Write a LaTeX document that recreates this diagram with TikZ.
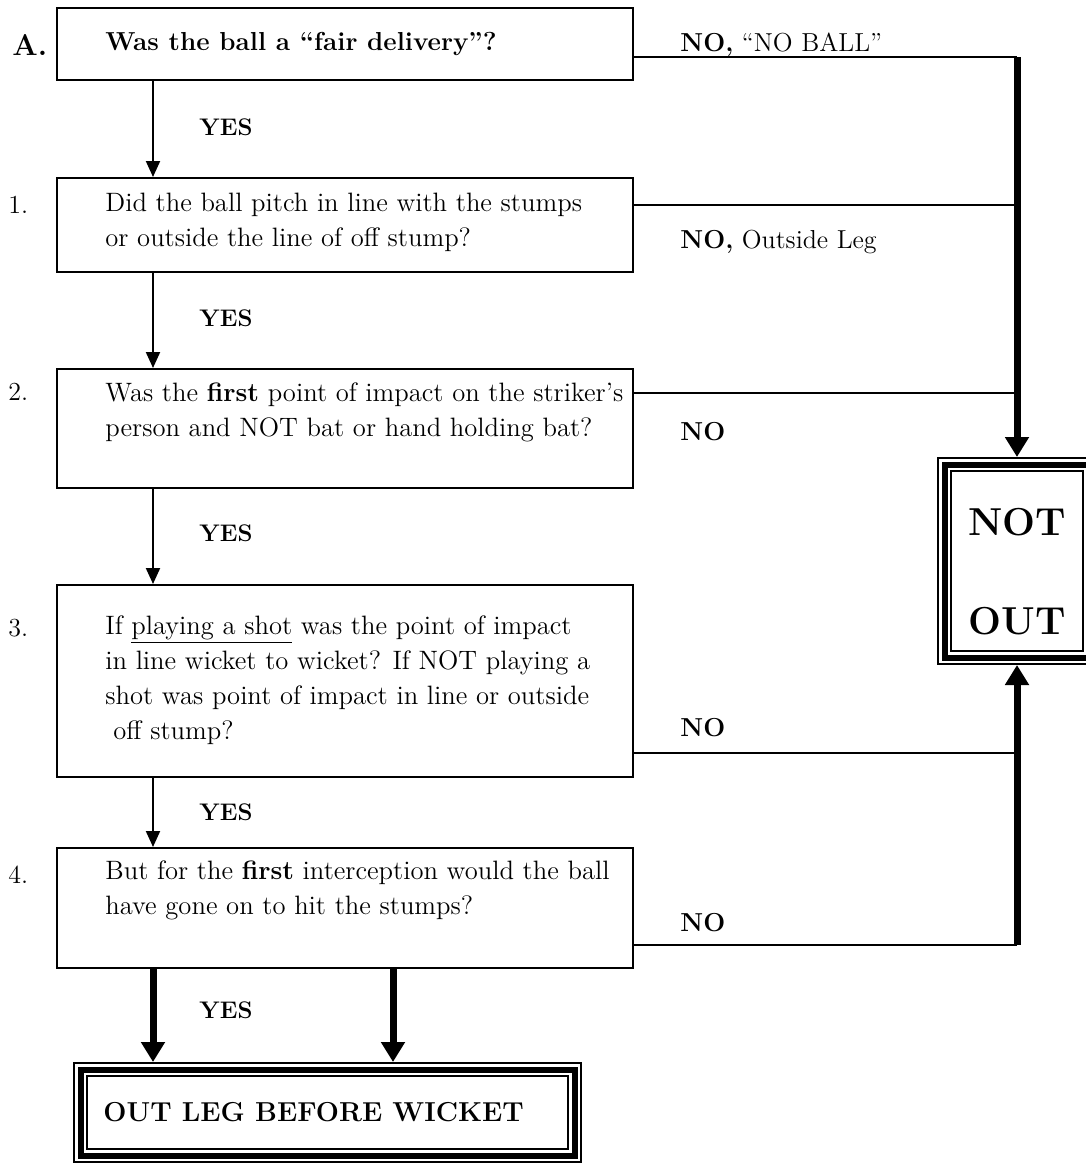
\documentclass[tikz,border=0pt]{standalone}
\usetikzlibrary{arrows.meta,positioning,calc}

\begin{document}
\begin{tikzpicture}[x=0.5pt, y=-0.5pt,
    question/.style={rectangle, draw, line width=1pt, minimum width=288pt, inner sep=0pt},
    qtext/.style={anchor=west, align=left, inner sep=0pt, font=\fontsize{13.3}{17.5}\selectfont},
    number/.style={anchor=west, inner sep=0pt, font=\fontsize{13}{15}\selectfont},
    yes/.style={inner sep=0pt, font=\fontsize{12}{14}\selectfont\bfseries},
    answer/.style={anchor=west, inner sep=0pt, font=\fontsize{13}{15}\selectfont},
    verdict/.style={rectangle, draw, line width=3pt, inner sep=0pt, outer sep=3.75pt,
        preaction={draw, line width=1pt, double=white, double distance=5.5pt}},
    bigword/.style={inner sep=0pt, font=\fontsize{19.5}{22}\selectfont\bfseries},
    arrow/.style={line width=1pt, -{Triangle[length=8pt, width=7pt]}},
    bigarrow/.style={line width=3.5pt, -{Triangle[length=10pt, width=11.5pt]}},
    link/.style={line width=1pt}
]
\useasboundingbox (0,0) rectangle (1086,1163);

% Question boxes
\node[question, minimum height=36pt] (qa) at (345,44) {};
\node[question, minimum height=47pt] (qone) at (345,225) {};
\node[question, minimum height=59.5pt] (qtwo) at (345,428.5) {};
\node[question, minimum height=96pt] (qthree) at (345,681) {};
\node[question, minimum height=60pt] (qfour) at (345,908) {};

% Questions
\node[qtext, font=\fontsize{13}{17.5}\selectfont\bfseries] (ta) at (105,44) {Was the ball a “fair delivery”?};
\node[qtext] (tone) at (105,222) {Did the ball pitch in line with the stumps\\or outside the line of off stump?};
\node[qtext] (ttwo) at (105,412) {Was the \textbf{first} point of impact on the striker’s\\person and NOT bat or hand holding bat?};
\node[qtext] (tthree) at (105,680) {If \underline{playing a shot} was the point of impact\\in line wicket to wicket? If NOT playing a\\shot was point of impact in line or outside\\\hspace*{4pt}off stump?};
\node[qtext] (tfour) at (105,890) {But for the \textbf{first} interception would the ball\\have gone on to hit the stumps?};

% Numbers
\node[number, font=\fontsize{15}{17}\selectfont\bfseries] (la) at (12,45) {A.};
\node[number] (lone) at (8,205) {1.};
\node[number] (ltwo) at (8,392) {2.};
\node[number] (lthree) at (8,628) {3.};
\node[number] (lfour) at (8,875) {4.};

% Answers
\node[yes] (ya) at (226,127) {YES};
\node[yes] (yone) at (226,318) {YES};
\node[yes] (ytwo) at (226,533) {YES};
\node[yes] (ythree) at (226,812) {YES};
\node[yes] (yfour) at (226,1010) {YES};
\node[answer] (na) at (680,45) {\textbf{NO,} “NO BALL”};
\node[answer] (none) at (680,242) {\textbf{NO,} Outside Leg};
\node[answer] (ntwo) at (680,432) {\textbf{NO}};
\node[answer] (nthree) at (680,728) {\textbf{NO}};
\node[answer] (nfour) at (680,923) {\textbf{NO}};

% Verdicts
\node[verdict, minimum width=72.5pt, minimum height=96.5pt] (notout) at (1017,561) {};
\node[bigword] (nottxt) at (1017,522) {NOT};
\node[bigword] (outtxt) at (1017,621) {OUT};
\node[verdict, minimum width=247pt, minimum height=43pt] (outlbw) at (327.5,1112.5) {};
\node[qtext, font=\fontsize{13.7}{16}\selectfont\bfseries] (lbwtxt) at (103,1112) {OUT LEG BEFORE WICKET};

% Connectors
\coordinate (spine) at (153,0);
\coordinate (spinetwo) at (393,0);
\coordinate (ja) at (1017,57);
\coordinate (jone) at (1017,205);
\coordinate (jtwo) at (1017,393);
\coordinate (jthree) at (1017,753);
\coordinate (jfour) at (1017,945);

\draw[arrow] (qa.south -| spine) -- (qone.north -| spine);
\draw[arrow] (qone.south -| spine) -- (qtwo.north -| spine);
\draw[arrow] (qtwo.south -| spine) -- (qthree.north -| spine);
\draw[arrow] (qthree.south -| spine) -- (qfour.north -| spine);
\draw[bigarrow] (qfour.south -| spine) -- (outlbw.north -| spine);
\draw[bigarrow] (qfour.south -| spinetwo) -- (outlbw.north -| spinetwo);

\draw[link] (qa.east |- ja) -- (ja);
\draw[link] (qone.east |- jone) -- (jone);
\draw[link] (qtwo.east |- jtwo) -- (jtwo);
\draw[link] (qthree.east |- jthree) -- (jthree);
\draw[link] (qfour.east |- jfour) -- (jfour);

\draw[bigarrow] (ja) -- (notout.north);
\draw[bigarrow] (jfour) -- (notout.south);

\end{tikzpicture}
\end{document}
